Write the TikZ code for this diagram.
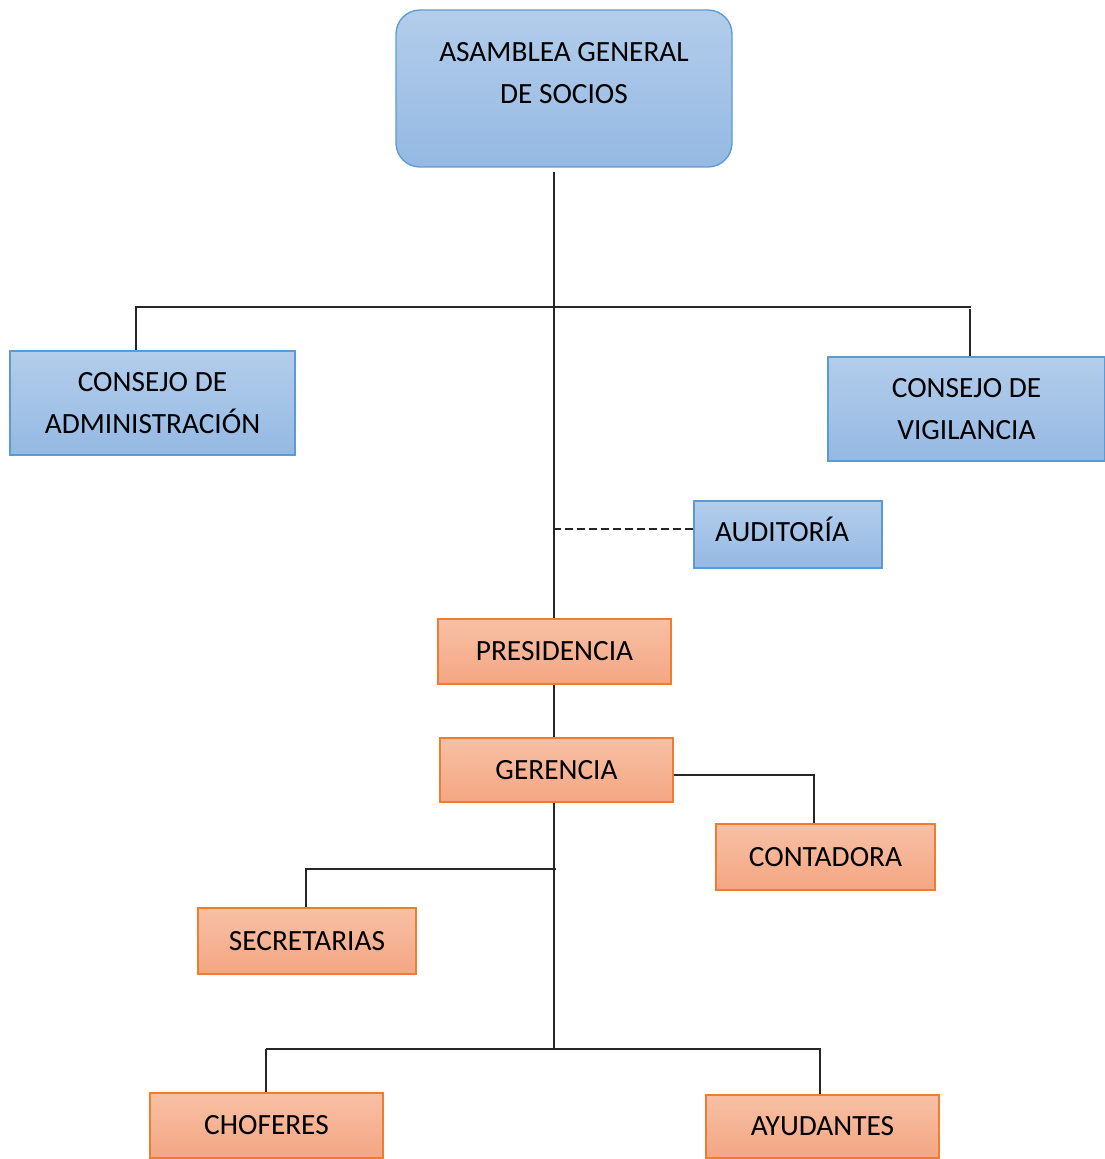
\documentclass[tikz,border=0pt]{standalone}
\usepackage{fontspec}
\setmainfont{Carlito}
\usepackage{xcolor}
\usepackage{tikz}
\usetikzlibrary{positioning,calc}

\definecolor{bluetop}{HTML}{B3CDEB}
\definecolor{bluebot}{HTML}{95B9E3}
\definecolor{bluedge}{HTML}{5B9BD5}
\definecolor{orgtop}{HTML}{F8C0A5}
\definecolor{orgbot}{HTML}{F4A683}
\definecolor{orgedge}{HTML}{ED7D31}

\begin{document}
\begin{tikzpicture}[x=0.75pt, y=-0.75pt,
    azul/.style={rectangle, draw=bluedge, line width=1pt, top color=bluetop, bottom color=bluebot, inner sep=0pt, align=center, font=\fontsize{22}{31.5}\selectfont},
    naranja/.style={rectangle, draw=orgedge, line width=1pt, top color=orgtop, bottom color=orgbot, inner sep=0pt, align=center, font=\fontsize{22}{31.5}\selectfont},
    linea/.style={draw=black!85, line width=0.8pt}
]
\useasboundingbox (0,0) rectangle (1105,1159);

% Organos de gobierno
\node[azul, rounded corners=18pt, minimum width=252pt, text height=70.5pt, text depth=47.25pt] (asamblea) at (564, 88.5) {ASAMBLEA GENERAL\\DE SOCIOS};
\node[azul, minimum width=213.75pt, minimum height=78pt] (admin) at (152.5, 403) {CONSEJO DE\\ADMINISTRACIÓN};
\node[azul, minimum width=207.75pt, minimum height=78pt] (vigilancia) at (966.5, 409) {CONSEJO DE\\VIGILANCIA};
\node[azul, minimum width=141pt, minimum height=50.25pt, text height=18pt, text depth=8pt] (auditoria) at (788, 534.5) {AUDITORÍA\hspace{9pt}};

% Administracion
\node[naranja, minimum width=174.75pt, minimum height=48.75pt] (presidencia) at (554.5, 651.5) {PRESIDENCIA};
\node[naranja, minimum width=174.75pt, minimum height=48pt] (gerencia) at (556.5, 770) {GERENCIA};
\node[naranja, minimum width=164.25pt, minimum height=49.5pt] (contadora) at (825.5, 857) {CONTADORA};
\node[naranja, minimum width=163.5pt, minimum height=49.5pt] (secretarias) at (307, 941) {SECRETARIAS};
\node[naranja, minimum width=174.75pt, minimum height=48.75pt] (choferes) at (266.5, 1125.5) {CHOFERES};
\node[naranja, minimum width=174.75pt, minimum height=47.25pt] (ayudantes) at (822.5, 1126.5) {AYUDANTES};

% Lineas
\coordinate (tronco) at (554, 172);
\coordinate (barizq) at (135, 307);
\coordinate (barder) at (971, 307);
\coordinate (dizq) at (136, 307);
\coordinate (dder) at (970, 309);
\coordinate (aud) at (553, 529);
\coordinate (secbar) at (556, 869);
\coordinate (secizq) at (306, 869);
\coordinate (pie) at (554, 1049);
\coordinate (pieizq) at (266, 1049);
\coordinate (pieder) at (821, 1049);

\draw[linea] (tronco) -- (tronco |- presidencia.north);
\draw[linea] (barizq) -- (barder);
\draw[linea] (dizq) -- (dizq |- admin.north);
\draw[linea] (dder) -- (dder |- vigilancia.north);
\draw[linea, dash pattern=on 6pt off 3pt] (aud) -- (aud -| auditoria.west);
\draw[linea] (tronco |- presidencia.south) -- (tronco |- gerencia.north);
\draw[linea] (gerencia.east |- 0,775) -| (814, 0 |- contadora.north);
\draw[linea] (tronco |- gerencia.south) -- (pie);
\draw[linea] (secbar) -- (secizq) -- (secizq |- secretarias.north);
\draw[linea] (pieizq) -- (pieder);
\draw[linea] (pieizq) -- (pieizq |- choferes.north);
\draw[linea] (820, 1049) -- (820, 0 |- ayudantes.north);
\end{tikzpicture}
\end{document}
